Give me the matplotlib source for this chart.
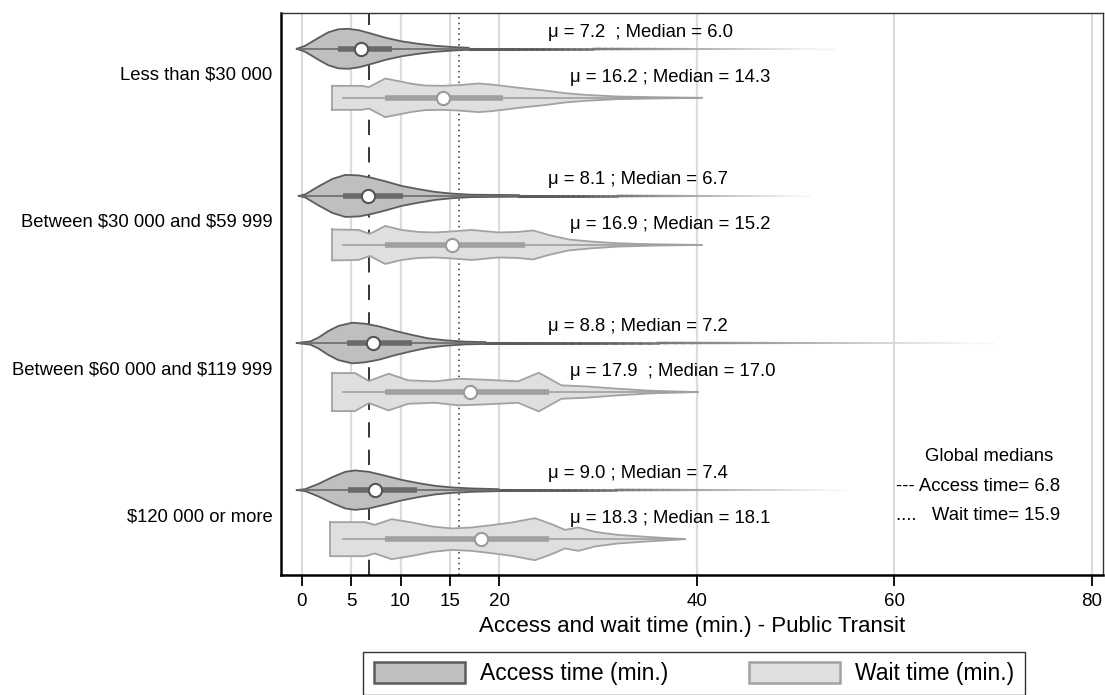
import numpy as np
import matplotlib
matplotlib.use('Agg')
import matplotlib.pyplot as plt
from matplotlib.patches import Patch
from matplotlib.collections import LineCollection
from matplotlib.colors import to_rgb

plt.rcParams['font.family'] = ['Liberation Sans', 'DejaVu Sans']

groups = ['Less than \\$30 000', 'Between \\$30 000 and \\$59 999',
          'Between \\$60 000 and \\$119 999', '\\$120 000 or more']

# violin outlines: x in minutes, half-width in pixels
acc_x = [
    [-0.5, 0.35, 1.7, 2.7, 3.7, 4.7, 5.8, 7.1, 8.5, 10.1, 11.8, 13.5, 15.2, 16.9, 20.0, 30.0, 45.0, 54.0],
    [-0.3, 0.35, 1.7, 3.1, 4.4, 5.8, 7.1, 8.5, 10.1, 11.8, 13.5, 15.2, 17.2, 22.0, 35.0, 51.4],
    [-0.5, 0.9, 1.7, 2.7, 3.7, 5.1, 6.4, 7.8, 9.5, 11.2, 12.8, 14.5, 16.5, 18.6, 25.0, 45.0, 70.0],
    [-0.5, 0.35, 1.7, 3.1, 4.4, 5.4, 6.8, 8.5, 10.1, 11.8, 13.5, 15.2, 17.2, 19.9, 30.0, 55.0],
]
acc_w = [
    [0, 3.0, 11.0, 16.5, 19.5, 20.0, 18.5, 15.0, 11.0, 7.5, 5.0, 3.0, 1.8, 1.0, 0.8, 0.6, 0.4, 0],
    [0, 1.5, 9.5, 17.0, 21.0, 20.5, 18.0, 14.5, 10.0, 6.8, 4.0, 2.3, 1.2, 0.8, 0.5, 0],
    [0, 1.7, 5.5, 12.0, 17.0, 20.3, 19.3, 16.7, 12.0, 8.0, 4.7, 2.7, 1.4, 0.9, 0.7, 0.4, 0],
    [0, 1.0, 6.3, 13.0, 18.3, 19.7, 18.3, 14.3, 10.3, 7.0, 4.3, 2.7, 1.7, 1.0, 0.7, 0],
]
wait_x = [
    [3.05, 6.1, 6.8, 8.45, 9.8, 11.15, 12.5, 14.2, 15.9, 17.9, 19.2, 20.6, 22.6, 24.6, 26.6, 28.7, 32.0, 35.4, 40.5],
    [3.05, 5.75, 6.9, 8.45, 10.1, 11.8, 13.5, 15.2, 17.2, 19.9, 21.9, 23.4, 25.0, 27.0, 29.4, 32.0, 35.4, 40.5],
    [3.05, 5.4, 6.8, 8.8, 10.8, 13.5, 15.9, 18.6, 21.9, 24.0, 26.3, 28.7, 32.0, 35.4, 40.1],
    [2.9, 6.4, 7.4, 9.1, 11.15, 13.2, 15.2, 17.2, 19.2, 21.3, 23.6, 25.3, 26.65, 28.0, 29.7, 32.0, 35.4, 38.8],
]
wait_w = [
    [12.0, 12.0, 10.7, 19.3, 16.7, 14.0, 12.3, 12.0, 12.7, 14.3, 13.3, 11.7, 9.3, 7.3, 4.7, 3.0, 1.3, 0.7, 0],
    [15.5, 15.0, 11.0, 19.0, 15.0, 13.0, 12.5, 13.5, 15.0, 12.5, 13.0, 14.5, 10.0, 5.5, 3.3, 1.7, 0.7, 0],
    [19.0, 19.0, 11.0, 18.3, 11.7, 10.7, 13.3, 12.3, 10.7, 19.3, 6.7, 5.7, 3.3, 1.3, 0],
    [17.0, 17.0, 14.3, 20.0, 16.7, 12.7, 10.7, 11.7, 14.0, 16.7, 21.0, 15.0, 9.3, 11.7, 7.3, 4.3, 2.0, 0],
]

acc_q1 = [3.7, 4.2, 4.6, 4.7]
acc_q3 = [9.1, 10.3, 11.2, 11.7]
acc_lo = [-0.3, -0.2, -0.3, -0.3]
acc_mean = [7.2, 8.1, 8.8, 9.0]
acc_med = [6.0, 6.7, 7.2, 7.4]

wait_q1 = [8.45, 8.45, 8.45, 8.45]
wait_q3 = [20.4, 22.6, 25.0, 25.0]
wait_lo = [4.2, 4.2, 4.2, 4.2]
wait_hi = [40.0, 40.0, 40.0, 38.5]
wait_mean = [16.2, 16.9, 17.9, 18.3]
wait_med = [14.3, 15.2, 17.0, 18.1]

acc_labels = ['\u03bc = 7.2  ; Median = 6.0', '\u03bc = 8.1 ; Median = 6.7',
              '\u03bc = 8.8 ; Median = 7.2', '\u03bc = 9.0 ; Median = 7.4']
wait_labels = ['\u03bc = 16.2 ; Median = 14.3', '\u03bc = 16.9 ; Median = 15.2',
               '\u03bc = 17.9  ; Median = 17.0', '\u03bc = 18.3 ; Median = 18.1']

global_acc = 6.8
global_wait = 15.9

ACC_FILL, ACC_EDGE, ACC_BOX = '#bfbfbf', '#5c5c5c', '#6a6a6a'
WAIT_FILL, WAIT_EDGE, WAIT_BOX = '#dfdfdf', '#a2a2a2', '#a0a0a0'
PX = 1 / 49.0  # pixel -> y unit
FS = 13.3

fig = plt.figure(figsize=(11.05, 6.95), dpi=100)
ax = fig.add_axes([0.2543, 0.1727, 0.7437, 0.8086])

for xv in [0, 5, 10, 15, 20, 40, 60, 80]:
    ax.axvline(xv, color='#dcdcdc', lw=1.6, zorder=0)


def fade_tail(x0, x1, y, c0):
    # thin tail of the violin, fading out towards the background
    t = np.linspace(0, 1, 60)
    xs = x0 + (x1 - x0) * t
    segs = [[(xs[k], y), (xs[k + 1], y)] for k in range(len(xs) - 1)]
    a = np.array(to_rgb(c0))
    b = np.array([0.96, 0.96, 0.96])
    cols = [a + (b - a) * min(1.0, max(0.0, (tk - 0.2) / 0.75)) for tk in t[:-1]]
    lws = [2.2 - 1.2 * tk for tk in t[:-1]]
    ax.add_collection(LineCollection(segs, colors=cols, linewidths=lws,
                                     capstyle='projecting', zorder=3))


def violin(y, xs, ws, fill, edge, q1, q3, lo, hi, med, boxc, mec, tail):
    xs = np.array(xs)
    ws_px = np.array(ws, dtype=float)
    ws = ws_px * PX
    if tail:
        pk = int(np.argmax(ws_px))
        k = pk + int(np.argmax(ws_px[pk:] <= 1.0))
        ax.fill_between(xs[:k + 1], y - ws[:k + 1], y + ws[:k + 1], facecolor=fill,
                        edgecolor='none', zorder=2)
        ax.plot(xs[:k + 1], y - ws[:k + 1], color=edge, lw=1.3, zorder=3)
        ax.plot(xs[:k + 1], y + ws[:k + 1], color=edge, lw=1.3, zorder=3)
        ax.plot([lo, xs[k]], [y, y], color=boxc, lw=1.2, zorder=4)
        fade_tail(xs[k], xs[-1], y, edge)
    else:
        ax.fill_between(xs, y - ws, y + ws, facecolor=fill, edgecolor='none', zorder=2)
        ax.plot(xs, y - ws, color=edge, lw=1.3, zorder=3)
        ax.plot(xs, y + ws, color=edge, lw=1.3, zorder=3)
        ax.plot([xs[0], xs[0]], [y - ws[0], y + ws[0]], color=edge, lw=1.3, zorder=3)
        ax.plot([lo, hi], [y, y], color=boxc, lw=1.2, zorder=4)
    ax.plot([q1, q3], [y, y], color=boxc, lw=4, solid_capstyle='butt', zorder=4)
    ax.plot(med, y, 'o', ms=9.5, mfc='white', mec=mec, mew=1.5, zorder=5)


for i in range(4):
    ya = 3 * i
    yw = 3 * i + 1
    violin(ya, acc_x[i], acc_w[i], ACC_FILL, ACC_EDGE, acc_q1[i], acc_q3[i],
           acc_lo[i], None, acc_med[i], ACC_BOX, '#555555', True)
    violin(yw, wait_x[i], wait_w[i], WAIT_FILL, WAIT_EDGE, wait_q1[i], wait_q3[i],
           wait_lo[i], wait_hi[i], wait_med[i], WAIT_BOX, '#9a9a9a', False)
    ax.text(24.9, ya - 0.33, acc_labels[i], fontsize=FS, va='center', ha='left')
    ax.text(27.2, yw - 0.42, wait_labels[i], fontsize=FS, va='center', ha='left')

ax.axvline(global_acc, color='black', lw=1.1, ls=(0, (10, 8)), zorder=1)
ax.axvline(global_wait, color='#333333', lw=1.1, ls=(0, (1, 2.5)), zorder=1)

ax.text(69.6, 8.32, 'Global medians', fontsize=FS, ha='center', va='center')
ax.text(60.2, 8.93, '--- Access time= 6.8', fontsize=FS, ha='left', va='center')
ax.text(60.2, 9.51, '....   Wait time= 15.9', fontsize=FS, ha='left', va='center')

ax.set_xlim(-2.1, 81.1)
ax.set_ylim(10.73, -0.73)
ax.set_xticks([0, 5, 10, 15, 20, 40, 60, 80])
ax.set_yticks([3 * i + 0.5 for i in range(4)])
ax.set_yticklabels(groups)
ax.tick_params(axis='y', length=0, pad=6, labelsize=FS)
ax.tick_params(axis='x', length=8, width=1.3, labelsize=13.5, pad=5)
ax.set_xlabel('Access and wait time (min.) - Public Transit', fontsize=16, labelpad=4)

for s in ['left', 'bottom']:
    ax.spines[s].set_linewidth(1.8)
for s in ['top', 'right']:
    ax.spines[s].set_linewidth(1.0)
    ax.spines[s].set_color('#333333')

handles = [Patch(facecolor=ACC_FILL, edgecolor=ACC_EDGE, lw=1.8, label='Access time (min.)'),
           Patch(facecolor=WAIT_FILL, edgecolor=WAIT_EDGE, lw=1.8, label='Wait time (min.)')]
leg = fig.legend(handles=handles, loc='upper center', bbox_to_anchor=(0.628, 0.0623),
                 ncol=2, fontsize=16.5, frameon=True, fancybox=False, edgecolor='black',
                 handlelength=4.0, handleheight=1.0, columnspacing=3.5, borderpad=0.45,
                 handletextpad=0.65, borderaxespad=0)
leg.get_frame().set_linewidth(1.0)

fig.savefig('out.png', dpi=100)
